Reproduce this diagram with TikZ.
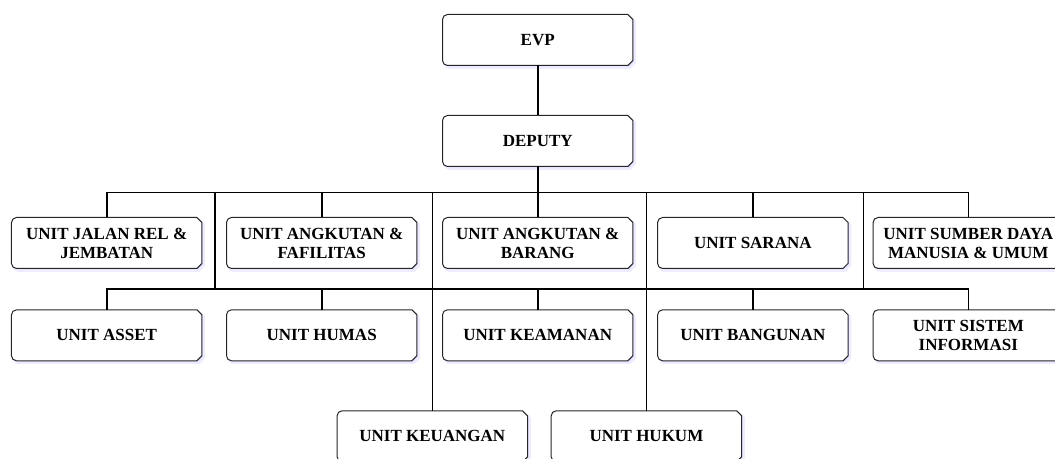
\documentclass[tikz,border=0pt]{standalone}
\usepackage{fontspec}
\setmainfont{Liberation Serif}
\usetikzlibrary{backgrounds}
\tikzset{
  unit/.style={minimum width=190bp, minimum height=50.6bp, inner sep=0pt, align=center,
    font=\fontsize{17bp}{19bp}\selectfont\bfseries},
  conn/.style={line width=1.6bp, draw=black},
  boxline/.style={draw=black!85, line width=1bp, fill=white},
  boxshadow/.style={fill=blue!14, draw=blue!7, line width=2.5bp, transform canvas={shift={(2bp,-2.2bp)}}},
}
\newcommand\unitbox[2][]{%
  \draw[#1] (#2.north) -- ([xshift=-5bp]#2.north east) -- ([yshift=-5bp]#2.north east)
    -- ([yshift=5bp]#2.south east) -- ([xshift=-5bp]#2.south east)
    -- ([xshift=5bp]#2.south west) arc[start angle=270,end angle=180,radius=5bp]
    -- ([yshift=-5bp]#2.north west) arc[start angle=180,end angle=90,radius=5bp] -- cycle;}
\begin{document}
\begin{tikzpicture}[x=1bp,y=1bp]
\useasboundingbox (0,0) rectangle (1055,-459);
% nodes
\node[unit] (evp) at (537.7,-40) {EVP};
\node[unit] (dep) at (537.7,-141) {DEPUTY};
\node[unit] (r1a) at (106.7,-243) {UNIT JALAN REL \&\\JEMBATAN};
\node[unit] (r1b) at (321.7,-243) {UNIT ANGKUTAN \&\\FAFILITAS};
\node[unit] (r1c) at (537.7,-243) {UNIT ANGKUTAN \&\\BARANG};
\node[unit] (r1d) at (752.8,-243) {UNIT SARANA};
\node[unit] (r1e) at (968.3,-243) {UNIT SUMBER DAYA\\MANUSIA \& UMUM};
\node[unit] (r2a) at (106.7,-335.3) {UNIT ASSET};
\node[unit] (r2b) at (321.7,-335.3) {UNIT HUMAS};
\node[unit] (r2c) at (537.7,-335.3) {UNIT KEAMANAN};
\node[unit] (r2d) at (752.8,-335.3) {UNIT BANGUNAN};
\node[unit] (r2e) at (968.3,-335.3) {UNIT SISTEM\\INFORMASI};
\node[unit] (r3a) at (432.3,-436.3) {UNIT KEUANGAN};
\node[unit] (r3b) at (646.4,-436.3) {UNIT HUKUM};
% box outlines behind text
\begin{pgfonlayer}{background}
\foreach \n in {evp,dep,r1a,r1b,r1c,r1d,r1e,r2a,r2b,r2c,r2d,r2e,r3a,r3b}{\unitbox[boxshadow]{\n}}
\foreach \n in {evp,dep,r1a,r1b,r1c,r1d,r1e,r2a,r2b,r2c,r2d,r2e,r3a,r3b}{\unitbox[boxline]{\n}}
\end{pgfonlayer}
% bus coordinates
\coordinate (tb) at (0,-192.7);
\coordinate (lb) at (0,-289.3);
\coordinate (v1) at (215,-192.7);
\coordinate (v4) at (863.6,-192.7);
% connectors
\draw[conn] (evp.south) -- (dep.north);
\draw[conn] (dep.south) -- (dep.south |- tb);
\draw[conn] (r1a.north) |- (r1e.north |- tb) -- (r1e.north);
\foreach \n in {r1b,r1c,r1d}{\draw[conn] (\n.north) -- (\n.north |- tb);}
\draw[conn] (r2a.north) |- (r2e.north |- lb) -- (r2e.north);
\foreach \n in {r2b,r2c,r2d}{\draw[conn] (\n.north) -- (\n.north |- lb);}
\draw[conn] (v1) -- (v1 |- lb);
\draw[conn] (v4) -- (v4 |- lb);
\draw[conn] (r3a.north) -- (r3a.north |- tb);
\draw[conn] (r3b.north) -- (r3b.north |- tb);
\end{tikzpicture}
\end{document}
